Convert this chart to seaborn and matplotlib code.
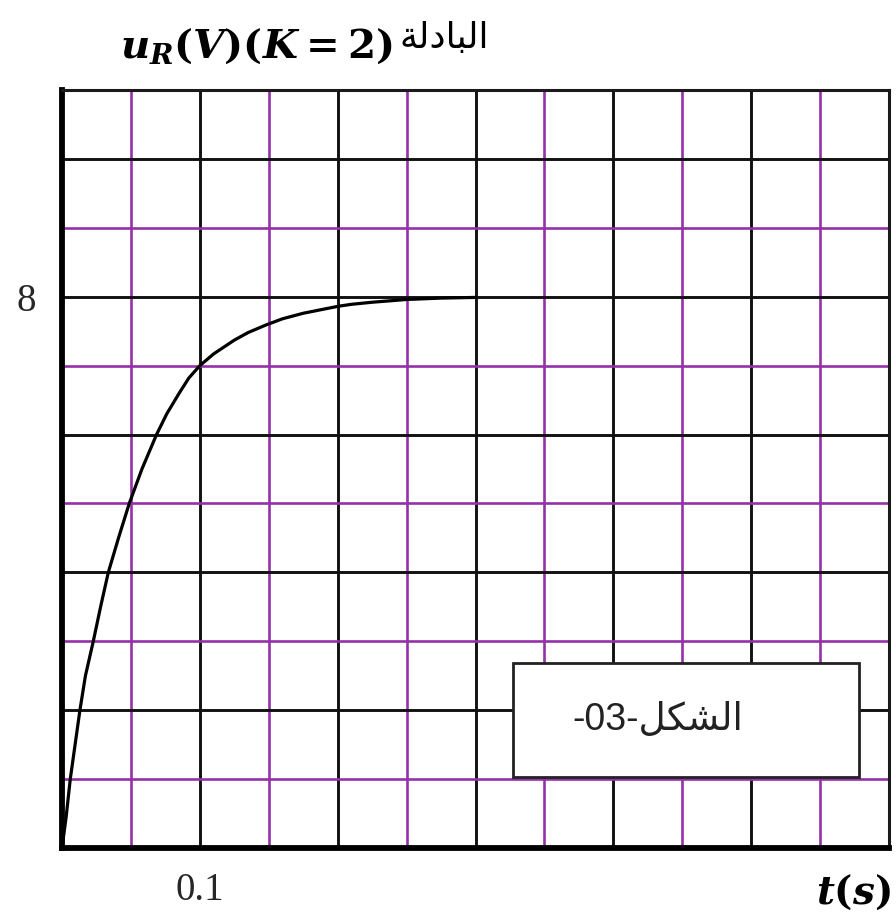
import matplotlib
matplotlib.use("Agg")
import matplotlib.pyplot as plt
from matplotlib.patches import Rectangle
import seaborn as sns

# Step response of the resistor voltage u_R(t)
t_s = [0, 0.003, 0.006, 0.0095, 0.013, 0.017, 0.0227, 0.028, 0.0336, 0.041,
       0.0488, 0.058, 0.0686, 0.076, 0.085, 0.092, 0.1, 0.11, 0.125, 0.135,
       0.148, 0.16, 0.175, 0.19, 0.2, 0.21, 0.225, 0.25, 0.275, 0.3]
u_R = [0, 0.45, 1.0, 1.5, 2.0, 2.5, 3.0, 3.5, 4.0, 4.5,
       5.0, 5.5, 6.0, 6.3, 6.6, 6.82, 7.0, 7.17, 7.37, 7.48,
       7.59, 7.68, 7.76, 7.82, 7.86, 7.89, 7.92, 7.96, 7.98, 7.99]

# Axis grid values and the only labelled ticks
x_major = [0.0, 0.1, 0.2, 0.3, 0.4, 0.5, 0.6]
x_minor = [0.05, 0.15, 0.25, 0.35, 0.45, 0.55]
x_labels = ["", "0.1", "", "", "", "", ""]
y_major = [0, 2, 4, 6, 8, 10]
y_minor = [1, 3, 5, 7, 9]
y_labels = ["", "", "", "", "8", ""]

# Arabic strings in visual (shaped) order: "البادلة" and "الشكل"
title_ar = "\uFE94\uFEDF\uFEA9\uFE8E\uFE92\uFEDF\uFE8D"
fig_tag = "-03-" + "\uFEDE\uFEDC\uFEB8\uFEDF\uFE8D"

sns.set_theme(style="white")
plt.rcParams["font.family"] = ["Liberation Serif", "DejaVu Sans"]
plt.rcParams["mathtext.fontset"] = "custom"
plt.rcParams["mathtext.it"] = "DejaVu Serif:italic:bold"
plt.rcParams["mathtext.rm"] = "DejaVu Serif:bold"
plt.rcParams["mathtext.bf"] = "DejaVu Serif:bold"

W, H = 896, 918
fig = plt.figure(figsize=(W / 100, H / 100), dpi=100)
ax = fig.add_axes([62 / W, 1 - 848 / H, (889 - 62) / W, (848 - 90) / H])

ax.set_xlim(0, 0.6)
ax.set_ylim(0, 11)

ax.set_xticks(x_major, labels=x_labels)
ax.set_xticks(x_minor, minor=True)
ax.set_yticks(y_major, labels=y_labels)
ax.set_yticks(y_minor, minor=True)

ax.grid(which="major", color="#111111", linewidth=2.1)
ax.grid(which="minor", color="#9430a8", linewidth=1.9)
ax.set_axisbelow(True)

ax.tick_params(which="both", length=0)
ax.tick_params(axis="y", pad=19, labelsize=28)
ax.tick_params(axis="x", pad=17, labelsize=28)

for side in ["left", "bottom"]:
    ax.spines[side].set_linewidth(4.2)
    ax.spines[side].set_color("black")
for side in ["top", "right"]:
    ax.spines[side].set_linewidth(2.2)
    ax.spines[side].set_color("#1a1a1a")

sns.lineplot(x=t_s, y=u_R, color="black", linewidth=2.3, ax=ax, zorder=3)

# Figure tag box
ax.add_patch(Rectangle((0.545, 0.094), 0.419, 0.150, transform=ax.transAxes,
                       facecolor="white", edgecolor="#222222", linewidth=2.0,
                       zorder=4))
ax.text(0.72, 0.169, fig_tag, transform=ax.transAxes, ha="center", va="center",
        fontsize=27, family=["Liberation Sans", "DejaVu Sans"], color="#222222",
        zorder=5)

# Title: quantity plotted plus Arabic caption
fig.text(393 / W, 1 - 47 / H, r"$u_R(V)(K=2)$", ha="right", va="center",
         fontsize=29, color="black")
fig.text(399 / W, 1 - 38 / H, title_ar, ha="left", va="center",
         fontsize=26, family=["DejaVu Sans"], color="black")

# Axis quantity on the time axis
fig.text(891 / W, 1 - 893 / H, r"$t(s)$", ha="right", va="center",
         fontsize=28, color="black")

fig.savefig("out.png", dpi=100)
